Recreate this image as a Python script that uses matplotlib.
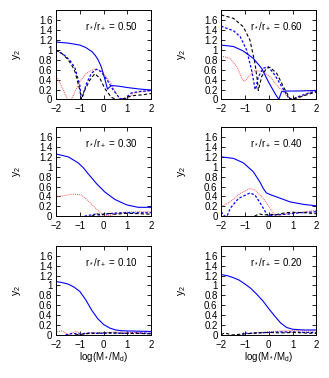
import numpy as np
import matplotlib
matplotlib.use("Agg")
import matplotlib.pyplot as plt

plt.rcParams['font.family'] = ['Liberation Sans', 'DejaVu Sans']
plt.rcParams['mathtext.fontset'] = 'custom'
plt.rcParams['mathtext.rm'] = 'Liberation Sans'
plt.rcParams['mathtext.it'] = 'Liberation Sans'

# panel labels (r*/r+)
ratios = ["0.50", "0.60", "0.30", "0.40", "0.10", "0.20"]

# ---- r*/r+ = 0.50
x050_bs = [-2, -1.5, -1.0, -0.75, -0.5, -0.35, -0.23, -0.1, -0.02, 0.08, 0.16, 0.25, 0.33, 0.6, 1.0, 1.5, 2.0]
y050_bs = [1.16, 1.14, 1.10, 1.05, 0.97, 0.89, 0.80, 0.66, 0.53, 0.36, 0.21, 0.25, 0.28, 0.27, 0.24, 0.21, 0.19]
x050_k = [-2, -1.75, -1.48, -1.3, -1.2, -1.0, -0.93, -0.79, -0.58, -0.37, -0.16, 0.05, 0.33, 0.54, 0.75, 1.02, 1.3, 1.58, 2.0]
y050_k = [1.0, 0.93, 0.80, 0.66, 0.56, 0.19, 0.0, 0.19, 0.39, 0.52, 0.43, 0.22, 0.04, 0.0, 0.0, 0.05, 0.08, 0.09, 0.12]
x050_bd = [-2, -1.6, -1.35, -1.2, -1.0, -0.93, -0.72, -0.51, -0.3, -0.1, 0.19, 0.4, 0.68, 0.88, 1.16, 1.5, 2.0]
y050_bd = [1.0, 0.88, 0.75, 0.63, 0.29, 0.0, 0.32, 0.53, 0.61, 0.56, 0.36, 0.19, 0.02, 0.0, 0.13, 0.16, 0.18]
x050_r = [-2, -1.88, -1.76, -1.55, -1.5, -1.35, -1.2, -1.0, -0.72, -0.37, -0.1, 0.26, 0.54, 0.68, 0.95, 1.23, 1.6, 2.0]
y050_r = [0.46, 0.38, 0.26, 0.04, 0.0, 0.0, 0.16, 0.36, 0.53, 0.62, 0.58, 0.36, 0.12, 0.0, 0.0, 0.12, 0.16, 0.18]

# ---- r*/r+ = 0.60
x060_bs = [-2, -1.48, -1.07, -0.65, -0.3, -0.02, 0.26, 0.42, 0.54, 0.75, 1.2, 2.0]
y060_bs = [1.10, 1.07, 0.98, 0.83, 0.63, 0.36, 0.12, 0.0, 0.16, 0.17, 0.17, 0.18]
x060_k = [-2, -1.48, -1.07, -0.79, -0.58, -0.48, -0.44, -0.3, -0.1, 0.05, 0.33, 0.61, 0.89, 0.96, 1.31, 1.7, 2.0]
y060_k = [1.71, 1.64, 1.47, 1.20, 0.73, 0.39, 0.18, 0.46, 0.63, 0.65, 0.53, 0.26, 0.01, 0.0, 0.05, 0.11, 0.15]
x060_bd = [-2, -1.48, -1.2, -0.93, -0.72, -0.58, -0.55, -0.44, -0.23, -0.02, 0.26, 0.54, 0.82, 0.96, 1.31, 1.7, 2.0]
y060_bd = [1.48, 1.39, 1.27, 1.0, 0.59, 0.22, 0.2, 0.46, 0.63, 0.66, 0.49, 0.26, 0.04, 0.0, 0.07, 0.13, 0.17]
x060_r = [-2, -1.62, -1.34, -1.09, -1.0, -0.79, -0.58, -0.23, 0.05, 0.33, 0.68, 0.89, 1.0, 1.31, 1.58, 2.0]
y060_r = [0.88, 0.83, 0.66, 0.39, 0.37, 0.49, 0.59, 0.56, 0.46, 0.29, 0.11, 0.02, 0.0, 0.04, 0.12, 0.20]

# ---- r*/r+ = 0.30
x030_bs = [-2, -1.48, -1.07, -0.85, -0.65, -0.3, 0.05, 0.47, 0.96, 1.45, 2.0]
y030_bs = [1.26, 1.20, 1.08, 0.98, 0.86, 0.66, 0.49, 0.34, 0.23, 0.18, 0.18]
x030_r = [-2, -1.62, -1.27, -0.93, -0.58, -0.23, -0.02, 0.2, 0.54, 0.89, 1.5, 2.0]
y030_r = [0.39, 0.42, 0.45, 0.43, 0.28, 0.11, 0.03, 0.01, 0.05, 0.08, 0.09, 0.09]
x030_bd = [-0.8, -0.6, -0.37, -0.15, 0.05, 0.4, 0.75, 1.2, 2.0]
y030_bd = [0.0, 0.02, 0.04, 0.02, 0.04, 0.06, 0.07, 0.07, 0.07]
x030_k = [-0.5, -0.3, -0.1, 0.1, 0.5, 1.0, 1.5, 2.0]
y030_k = [0.0, 0.05, 0.03, 0.06, 0.04, 0.06, 0.05, 0.04]

# ---- r*/r+ = 0.40
x040_bs = [-2, -1.48, -1.07, -0.65, -0.37, -0.23, -0.1, 0.1, 0.33, 0.89, 1.45, 2.0]
y040_bs = [1.20, 1.17, 1.08, 0.90, 0.69, 0.56, 0.47, 0.43, 0.39, 0.29, 0.24, 0.21]
x040_r = [-2, -1.62, -1.2, -0.79, -0.58, -0.23, 0.05, 0.26, 0.33, 0.61, 1.16, 2.0]
y040_r = [0.19, 0.29, 0.46, 0.56, 0.53, 0.36, 0.16, 0.02, 0.0, 0.04, 0.07, 0.12]
x040_bd = [-2, -1.85, -1.75, -1.62, -1.27, -0.79, -0.58, -0.3, -0.1, 0.0, 0.3, 0.75, 1.3, 2.0]
y040_bd = [0.09, 0.0, 0.0, 0.16, 0.36, 0.47, 0.43, 0.22, 0.05, 0.0, 0.03, 0.04, 0.07, 0.09]
x040_k = [-0.6, -0.4, -0.2, 0.0, 0.3, 0.7, 1.0, 1.5, 2.0]
y040_k = [0.0, 0.05, 0.02, 0.04, 0.03, 0.07, 0.08, 0.07, 0.05]

# ---- r*/r+ = 0.10
x010_bs = [-2, -1.75, -1.5, -1.25, -1.0, -0.75, -0.5, -0.25, 0.0, 0.25, 0.5, 0.75, 1.0, 1.5, 2.0]
y010_bs = [1.08, 1.06, 1.03, 0.97, 0.88, 0.71, 0.50, 0.33, 0.21, 0.14, 0.10, 0.085, 0.08, 0.075, 0.07]
x010_r = [-2, -1.9, -1.75, -1.6, -1.45, -1.3, -1.15, -1.0, -0.85, -0.7, -0.5, -0.2, 0.2, 0.6, 1.0, 1.5, 2.0]
y010_r = [0.03, 0.07, 0.08, 0.04, 0.0, 0.05, 0.07, 0.04, 0.01, 0.03, 0.05, 0.04, 0.05, 0.06, 0.05, 0.05, 0.06]
x010_bd = [-1.6, -1.3, -1.0, -0.6, -0.2, 0.3, 0.8, 1.4, 2.0]
y010_bd = [0.0, 0.03, 0.02, 0.04, 0.03, 0.04, 0.03, 0.04, 0.03]
x010_k = [-1.2, -0.6, 0.0, 0.5, 1.0, 1.5, 2.0]
y010_k = [0.0, 0.03, 0.04, 0.04, 0.03, 0.03, 0.02]

# ---- r*/r+ = 0.20
x020_bs = [-2, -1.75, -1.5, -1.25, -1.0, -0.75, -0.5, -0.25, 0.0, 0.25, 0.5, 0.75, 1.0, 1.25, 1.5, 2.0]
y020_bs = [1.22, 1.20, 1.16, 1.11, 1.03, 0.94, 0.82, 0.69, 0.53, 0.38, 0.24, 0.15, 0.115, 0.105, 0.10, 0.10]
x020_k = [-2, -1.85, -1.7, -1.55, -1.0, -0.5, 0.0, 0.5, 1.0, 1.5, 2.0]
y020_k = [0.0, 0.04, 0.02, 0.0, 0.02, 0.04, 0.05, 0.04, 0.05, 0.04, 0.03]
x020_bd = [-1.1, -1.05, -0.9, -0.5, 0.0, 0.5, 1.0, 1.5, 2.0]
y020_bd = [0.0, 0.05, 0.03, 0.04, 0.05, 0.06, 0.06, 0.05, 0.05]
x020_r = [-0.8, -0.4, 0.2, 0.6, 1.0, 1.5, 2.0]
y020_r = [0.03, 0.05, 0.07, 0.08, 0.09, 0.08, 0.08]

panels = [
    (x050_bs, y050_bs, x050_r, y050_r, x050_bd, y050_bd, x050_k, y050_k),
    (x060_bs, y060_bs, x060_r, y060_r, x060_bd, y060_bd, x060_k, y060_k),
    (x030_bs, y030_bs, x030_r, y030_r, x030_bd, y030_bd, x030_k, y030_k),
    (x040_bs, y040_bs, x040_r, y040_r, x040_bd, y040_bd, x040_k, y040_k),
    (x010_bs, y010_bs, x010_r, y010_r, x010_bd, y010_bd, x010_k, y010_k),
    (x020_bs, y020_bs, x020_r, y020_r, x020_bd, y020_bd, x020_k, y020_k),
]

fig = plt.figure(figsize=(3.29, 3.78), dpi=100)
lefts = [0.170, 0.672]
bottoms = [0.737, 0.428, 0.114]
w, h = 0.290, 0.2354

for i, p in enumerate(panels):
    ax = fig.add_axes([lefts[i % 2], bottoms[i // 2], w, h])
    xb, yb, xr, yr, xd, yd, xk, yk = p
    ax.plot(xr, yr, color='#ff5050', lw=0.7, ls=(0, (1, 1)))
    ax.plot(xd, yd, color='#0000ff', lw=0.9, ls=(0, (2, 1.5)))
    ax.plot(xk, yk, color='black', lw=0.8, ls=(0, (3, 2)))
    ax.plot(xb, yb, color='#0000ff', lw=0.8)
    ax.set_xlim(-2, 2)
    ax.set_ylim(0, 1.8)
    ax.set_xticks([-2, -1, 0, 1, 2])
    ax.set_yticks(np.arange(0, 1.61, 0.2))
    ax.set_yticklabels(["0", "0.2", "0.4", "0.6", "0.8", "1", "1.2", "1.4", "1.6"])
    ax.tick_params(direction='in', top=True, right=True, length=3, width=0.6,
                   labelsize=7)
    ax.tick_params(axis='x', pad=3.5)
    ax.tick_params(axis='y', pad=2.5)
    for s in ax.spines.values():
        s.set_linewidth(0.7)
    ax.set_ylabel("y$_2$", fontsize=7.5)
    ax.yaxis.set_label_coords(-0.35, 0.5)
    ax.text(0.86, 0.82, "r$_*$/r$_+$ = " + ratios[i], transform=ax.transAxes,
            ha='right', va='center', fontsize=7)
    if i >= 4:
        ax.set_xlabel("log(M$_*$/M$_d$)", fontsize=7)
        ax.xaxis.set_label_coords(0.5, -0.17)

fig.savefig("out.png", dpi=100)
